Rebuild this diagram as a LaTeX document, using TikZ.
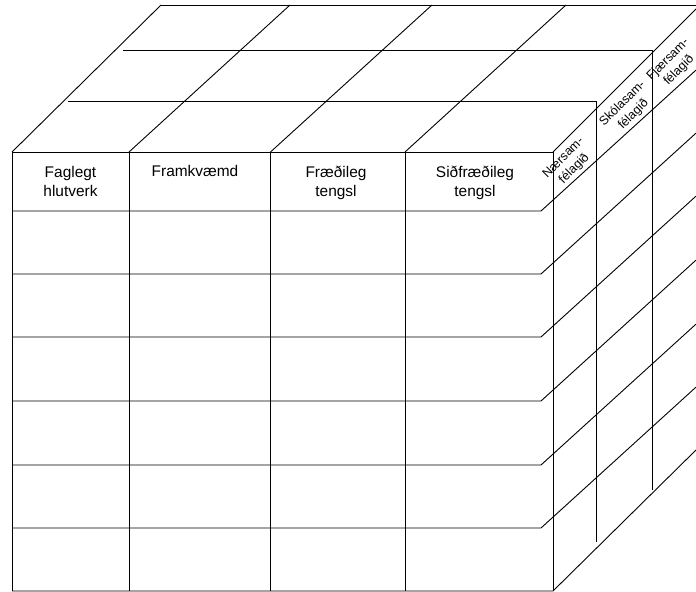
\documentclass[tikz,border=0pt]{standalone}
\usepackage{fontspec}
\setmainfont{Liberation Sans}
\begin{document}
\begin{tikzpicture}[x=1bp,y=-1bp,
  edge/.style={draw=black, line width=0.9bp, line cap=butt},
  head/.style={font=\fontsize{15.5}{20}\selectfont, align=center, anchor=base, inner sep=0pt},
  side/.style={font=\fontsize{12.5}{15.5}\selectfont, align=center, rotate=45, inner sep=0pt}]

% page area
\fill[white] (0,0) rectangle (696,592);
\useasboundingbox (0,0) rectangle (696,592);

% ---- front face: columns ----
\foreach \cx in {12,129,270.5,405,553}
  \draw[edge] (\cx,152) -- (\cx,591);
\draw[edge] (12,152) -- (553,152);

% ---- front rows, each running on into the side face ----
\foreach \ry in {211,274,337,401,465,528}
  \draw[edge] (12,\ry) -- (541,\ry) -- (696,\ry-140.9);
\draw[edge] (12,591) -- (553,591) -- (696,450);

% ---- top face: column edges receding ----
\draw[edge] (12,152)    -- (161,5);
\draw[edge] (129,152)   -- (290,5);
\draw[edge] (270.5,152) -- (432,5);
\draw[edge] (405,152)   -- (566,5);
\draw[edge] (553,152)   -- (696,9);

% ---- depth slices: top lines and side verticals ----
\draw[edge] (161,5) -- (696,5);
\draw[edge] (123,50) -- (652,50) -- (652,490);
\draw[edge] (68,101) -- (596,101) -- (596,542);

% ---- column headings (base = last line) ----
\node[head] (faglegt)   at (70.5,197) {Faglegt\\hlutverk};
\node[head] (framkv)    at (195,177)  {Framkvæmd};
\node[head] (fraedi)    at (336,197)  {Fræðileg\\tengsl};
\node[head] (sidfraedi) at (475,197)  {Siðfræðileg\\tengsl};

% ---- depth headings on the side face ----
\node[side] (naer)  at (569,163.5) {Nærsam-\\félagið};
\node[side] (skola) at (628,109)   {Skólasam-\\félagið};
\node[side] (fjaer) at (673.5,65)  {Fjærsam-\\félagið};
\end{tikzpicture}
\end{document}
